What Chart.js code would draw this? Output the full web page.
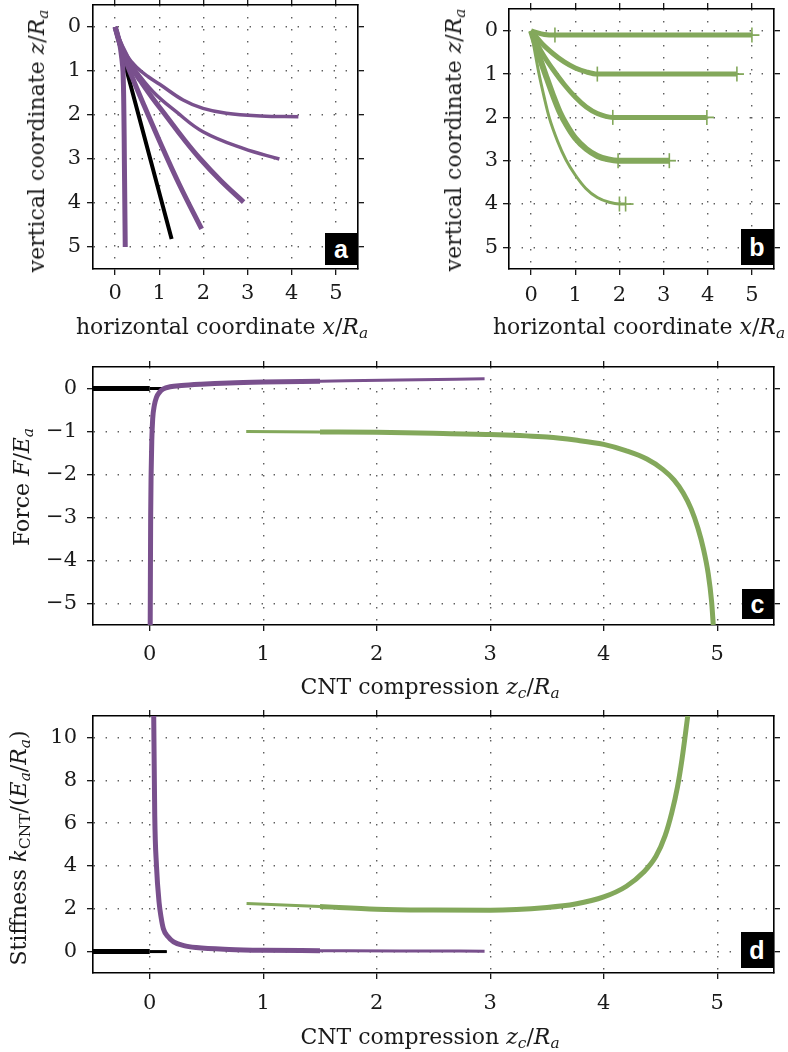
<!DOCTYPE html>
<html>
<head>
<meta charset="utf-8">
<script src="https://cdn.jsdelivr.net/npm/chart.js@4/dist/chart.umd.min.js"></script>
<style>
  html, body { margin: 0; padding: 0; background: #fff; }
  #wrap { position: relative; width: 788px; height: 1052px; overflow: hidden; background: #fff; }
  canvas { position: absolute; }
  .t { position: absolute; white-space: nowrap; font-family: "DejaVu Serif", serif; font-size: 22px; line-height: 1; color: #1a1a1a; transform: translate(-50%, -50%); }
  .t.rot { transform: translate(-50%, -50%) rotate(-90deg); }
  .t sub { font-size: 70%; vertical-align: -0.28em; line-height: 0; }
  .tag { position: absolute; background: #000; color: #fff; font-family: "Liberation Sans", Arial, sans-serif; font-weight: bold; font-size: 25px; display: flex; align-items: center; justify-content: center; }
</style>
</head>
<body>
<div id="wrap">
  <canvas id="ca" width="394" height="350" style="left:0;top:0"></canvas>
  <canvas id="cb" width="394" height="350" style="left:394px;top:0"></canvas>
  <canvas id="cc" width="788" height="350" style="left:0;top:350px"></canvas>
  <canvas id="cd" width="788" height="352" style="left:0;top:700px"></canvas>

  <div class="t" style="left:222px;top:327px">horizontal coordinate <i>x</i>/<i>R<sub>a</sub></i></div>
  <div class="t rot" style="left:37px;top:141px">vertical coordinate <i>z</i>/<i>R<sub>a</sub></i></div>
  <div class="t" style="left:639px;top:327px">horizontal coordinate <i>x</i>/<i>R<sub>a</sub></i></div>
  <div class="t rot" style="left:454px;top:140px">vertical coordinate <i>z</i>/<i>R<sub>a</sub></i></div>
  <div class="t" style="left:430px;top:687px">CNT compression <i>z<sub>c</sub></i>/<i>R<sub>a</sub></i></div>
  <div class="t rot" style="left:22px;top:487px">Force <i>F</i>/<i>E<sub>a</sub></i></div>
  <div class="t" style="left:430px;top:1037px">CNT compression <i>z<sub>c</sub></i>/<i>R<sub>a</sub></i></div>
  <div class="t rot" style="left:19px;top:848px">Stiffness <i>k</i><sub>CNT</sub>/(<i>E<sub>a</sub></i>/<i>R<sub>a</sub></i>)</div>

  <div class="tag" style="left:325px;top:233px;width:32px;height:32px">a</div>
  <div class="tag" style="left:741px;top:229px;width:32px;height:36px">b</div>
  <div class="tag" style="left:742px;top:589px;width:31px;height:30px">c</div>
  <div class="tag" style="left:741px;top:932px;width:32px;height:36px">d</div>
</div>
<script>
// ---------- tick labels ----------
const shapeTicks = [0, 1, 2, 3, 4, 5];
const compTicks = [0, 1, 2, 3, 4, 5];
const forceTicks = [-5, -4, -3, -2, -1, 0];
const stiffTicks = [0, 2, 4, 6, 8, 10];

// ---------- panel a: purple CNT shapes (x/Ra, z/Ra) ----------
const aVertX = [0, 0.05, 0.11, 0.15, 0.18, 0.2, 0.21, 0.22, 0.23];
const aVertZ = [0, 0.15, 0.41, 0.7, 1.02, 2.0, 3.0, 4.0, 5.0];
const aStraightX = [0, 1.28];
const aStraightZ = [0, 4.82];
const aCurve3X = [0, 0.08, 0.2, 0.33, 0.63, 1.01, 1.46, 1.96];
const aCurve3Z = [0, 0.3, 0.65, 1.0, 1.72, 2.6, 3.59, 4.59];
const aCurve4X = [0, 0.09, 0.22, 0.39, 0.57, 0.85, 1.17, 1.55, 1.93, 2.4, 2.91];
const aCurve4Z = [0, 0.3, 0.62, 0.95, 1.22, 1.62, 2.04, 2.54, 3.0, 3.5, 3.98];
const aCurve5X = [0, 0.1, 0.25, 0.44, 0.86, 1.39, 1.99, 2.9, 3.72];
const aCurve5Z = [0, 0.28, 0.6, 0.95, 1.47, 1.93, 2.38, 2.76, 3.0];
const aCurve6X = [0, 0.11, 0.26, 0.48, 0.75, 1.01, 1.54, 1.99, 2.52, 3.3, 4.15];
const aCurve6Z = [0, 0.34, 0.64, 0.91, 1.13, 1.3, 1.66, 1.85, 1.96, 2.02, 2.04];

// ---------- panel b: green CNT shapes ----------
const b0X = [0, 0.15, 0.3, 0.54, 1.5, 5.0];
const b0Z = [0, 0.05, 0.085, 0.1, 0.1, 0.1];
const b1X = [0, 0.25, 0.5, 0.75, 1.0, 1.25, 1.5, 2.5, 4.66];
const b1Z = [0, 0.3, 0.53, 0.72, 0.86, 0.95, 1.0, 1.0, 1.0];
const b2X = [0, 0.15, 0.3, 0.5, 0.75, 1.0, 1.25, 1.5, 1.85, 2.5, 3.98];
const b2Z = [0, 0.33, 0.6, 0.9, 1.24, 1.53, 1.76, 1.91, 2.0, 2.0, 2.0];
const b3X = [0, 0.1, 0.2, 0.33, 0.5, 0.65, 0.8, 1.0, 1.25, 1.5, 1.75, 1.97, 2.5, 3.13];
const b3Z = [0, 0.33, 0.64, 1.02, 1.5, 1.88, 2.17, 2.48, 2.73, 2.89, 2.97, 3.0, 3.0, 3.0];
const b4X = [0, 0.08, 0.18, 0.3, 0.41, 0.6, 0.79, 1.0, 1.24, 1.5, 1.77, 2.0, 2.14];
const b4Z = [0, 0.45, 1.0, 1.55, 2.0, 2.55, 2.98, 3.33, 3.64, 3.85, 3.96, 4.0, 4.0];
const bMarkX = [0.54, 5.0, 1.5, 4.66, 1.85, 3.98, 1.97, 3.13, 2.0, 2.14];
const bMarkZ = [0.1, 0.1, 1, 1, 2, 2, 3, 3, 4, 4];
const bExtStartX = [5.0, 4.66, 3.98, 3.13, 2.14];
const bExtEndX = [5.17, 4.82, 4.14, 3.28, 2.32];
const bExtZ = [0.1, 1, 2, 3, 4];

// ---------- panel c: force ----------
const blackThickX = [-0.5, 0];
const blackThinX = [0, 0.15];
const blackY = [0, 0];
const cPurpleX = [0.004, 0.008, 0.012, 0.018, 0.026, 0.04, 0.06, 0.085, 0.12, 0.18, 0.28, 0.45, 0.7, 1.0, 1.5];
const cPurpleY = [-5.5, -3, -2, -1.2, -0.7, -0.4, -0.2, -0.09, -0.01, 0.04, 0.07, 0.1, 0.13, 0.15, 0.17];
const cPurpleThinX = [1.5, 2.2, 2.95];
const cPurpleThinY = [0.17, 0.2, 0.225];
const cGreenThinX = [0.85, 1.5];
const cGreenThinY = [-1.0, -1.01];
const cGreenX = [1.5, 2, 2.5, 3, 3.5, 3.75, 4, 4.2, 4.38, 4.52, 4.62, 4.7, 4.77, 4.83, 4.88, 4.92, 4.95, 4.965];
const cGreenY = [-1.01, -1.02, -1.04, -1.07, -1.13, -1.2, -1.3, -1.45, -1.64, -1.88, -2.13, -2.43, -2.8, -3.25, -3.75, -4.3, -4.95, -5.5];

// ---------- panel d: stiffness ----------
const dPurpleX = [0.035, 0.044, 0.059, 0.082, 0.1, 0.12, 0.16, 0.21, 0.3, 0.41, 0.7, 1.0, 1.5];
const dPurpleY = [11, 6.36, 4.03, 2.31, 1.6, 1.07, 0.7, 0.45, 0.28, 0.19, 0.1, 0.06, 0.04];
const dPurpleThinX = [1.5, 2.2, 2.95];
const dPurpleThinY = [0.04, 0.03, 0.02];
const dGreenThinX = [0.853, 1.5];
const dGreenThinY = [2.24, 2.1];
const dGreenX = [1.5, 2, 2.5, 3, 3.5, 3.75, 4, 4.2, 4.35, 4.46, 4.54, 4.6, 4.65, 4.69, 4.74];
const dGreenY = [2.1, 1.98, 1.94, 1.93, 2.06, 2.22, 2.55, 3.05, 3.7, 4.45, 5.4, 6.5, 7.7, 9.0, 11];

// ---------- styling ----------
const PURPLE = '#79508d';
const GREEN = '#83a85b';
const BLACK = '#000000';
const tickFont = { family: 'DejaVu Serif', size: 21 };

function pts(xs, ys) { return xs.map((x, i) => ({ x: x, y: ys[i] })); }
function line(xs, ys, color, width, order, smooth) {
  const ds = {
    data: pts(xs, ys), borderColor: color, backgroundColor: color, borderWidth: width,
    pointRadius: 0, pointHoverRadius: 0, showLine: true, fill: false,
    borderCapStyle: 'butt', borderJoinStyle: 'round', order: order || 0
  };
  if (smooth === 'spline') { ds.tension = 0.4; } else { ds.cubicInterpolationMode = 'monotone'; }
  return ds;
}
function axis(axisId, pos, min, max, tickArr, size, pad, reverse, main) {
  return {
    type: 'linear', axis: axisId, position: pos, min: min, max: max, reverse: !!reverse,
    afterBuildTicks: s => { s.ticks = tickArr.map(v => ({ value: v })); },
    afterFit: s => {
      if (s.isHorizontal()) s.height = size; else s.width = size;
      s.paddingTop = 0; s.paddingBottom = 0; s.paddingLeft = 0; s.paddingRight = 0;
    },
    grid: { display: true, drawOnChartArea: main, drawTicks: true, tickLength: 6,
            color: '#5e5e5e', lineWidth: 1.4, tickColor: '#000', tickWidth: 1.2 },
    border: { display: true, color: '#000', width: 1.6, dash: [1.4, 10.6] },
    ticks: { display: main, padding: pad, font: tickFont, color: '#1a1a1a', autoSkip: false, maxRotation: 0,
             callback: v => String(v).replace('-', '\u2212') }
  };
}
function scales(cfg) {
  return {
    x: axis('x', 'bottom', cfg.xmin, cfg.xmax, cfg.xt, cfg.bottom, cfg.xpad, false, true),
    x2: axis('x', 'top', cfg.xmin, cfg.xmax, cfg.xt, cfg.top, 0, false, false),
    y: axis('y', 'left', cfg.ymin, cfg.ymax, cfg.yt, cfg.left, cfg.ypad, cfg.rev, true),
    y2: axis('y', 'right', cfg.ymin, cfg.ymax, cfg.yt, cfg.right, 0, cfg.rev, false)
  };
}
function make(id, datasets, sc) {
  return new Chart(document.getElementById(id), {
    type: 'scatter',
    data: { datasets: datasets },
    options: {
      responsive: false, animation: false, devicePixelRatio: 1,
      layout: { padding: 0 },
      plugins: { legend: { display: false }, tooltip: { enabled: false } },
      events: [],
      scales: sc
    }
  });
}

// panel a
make('ca', [
  line(aVertX, aVertZ, PURPLE, 5, 0, 'spline'),
  line(aCurve3X, aCurve3Z, PURPLE, 5, 0, 'spline'),
  line(aCurve4X, aCurve4Z, PURPLE, 5, 0, 'spline'),
  line(aCurve5X, aCurve5Z, PURPLE, 3.5, 0, 'spline'),
  line(aCurve6X, aCurve6Z, PURPLE, 3.5, 0, 'spline'),
  line(aStraightX, aStraightZ, BLACK, 4, 10, 'spline')
], scales({ xmin: -0.5, xmax: 5.5, ymin: -0.5, ymax: 5.5, xt: shapeTicks, yt: shapeTicks,
            left: 93, right: 36, top: 5, bottom: 81, xpad: 6, ypad: 6, rev: true }));

// panel b
const bMarks = {
  data: pts(bMarkX, bMarkZ), showLine: false, pointStyle: 'line', pointRotation: 90,
  pointRadius: 7.5, pointHoverRadius: 7.5, pointBorderWidth: 1.6, pointBorderColor: GREEN,
  borderColor: GREEN, backgroundColor: GREEN, order: 0
};
const bExt = bExtStartX.map((x0, i) => line([x0, bExtEndX[i]], [bExtZ[i], bExtZ[i]], GREEN, 1.8, 1));
make('cb', [
  bMarks,
  line(b0X, b0Z, GREEN, 5, 1),
  line(b1X, b1Z, GREEN, 5, 1),
  line(b2X, b2Z, GREEN, 5, 1),
  line(b3X, b3Z, GREEN, 6, 1),
  line(b4X, b4Z, GREEN, 3, 1)
].concat(bExt), scales({ xmin: -0.5, xmax: 5.5, ymin: -0.5, ymax: 5.5, xt: shapeTicks, yt: shapeTicks,
            left: 115, right: 14, top: 5, bottom: 81, xpad: 8, ypad: 5, rev: true }));

// panel c
make('cc', [
  line(cPurpleX, cPurpleY, PURPLE, 5),
  line(cPurpleThinX, cPurpleThinY, PURPLE, 3),
  line(cGreenThinX, cGreenThinY, GREEN, 3),
  line(cGreenX, cGreenY, GREEN, 5),
  line(blackThickX, blackY, BLACK, 5, 10),
  line(blackThinX, blackY, BLACK, 3, 10)
], scales({ xmin: -0.5, xmax: 5.5, ymin: -5.5, ymax: 0.5, xt: compTicks, yt: forceTicks,
            left: 93, right: 14, top: 17, bottom: 75, xpad: 11, ypad: 10, rev: false }));

// panel d
make('cd', [
  line(dPurpleX, dPurpleY, PURPLE, 5),
  line(dPurpleThinX, dPurpleThinY, PURPLE, 3),
  line(dGreenThinX, dGreenThinY, GREEN, 3),
  line(dGreenX, dGreenY, GREEN, 5),
  line(blackThickX, blackY, BLACK, 5, 10),
  line(blackThinX, blackY, BLACK, 3, 10)
], scales({ xmin: -0.5, xmax: 5.5, ymin: -1, ymax: 11, xt: compTicks, yt: stiffTicks,
            left: 93, right: 14, top: 16, bottom: 79, xpad: 12, ypad: 10, rev: false }));
</script>
</body>
</html>
